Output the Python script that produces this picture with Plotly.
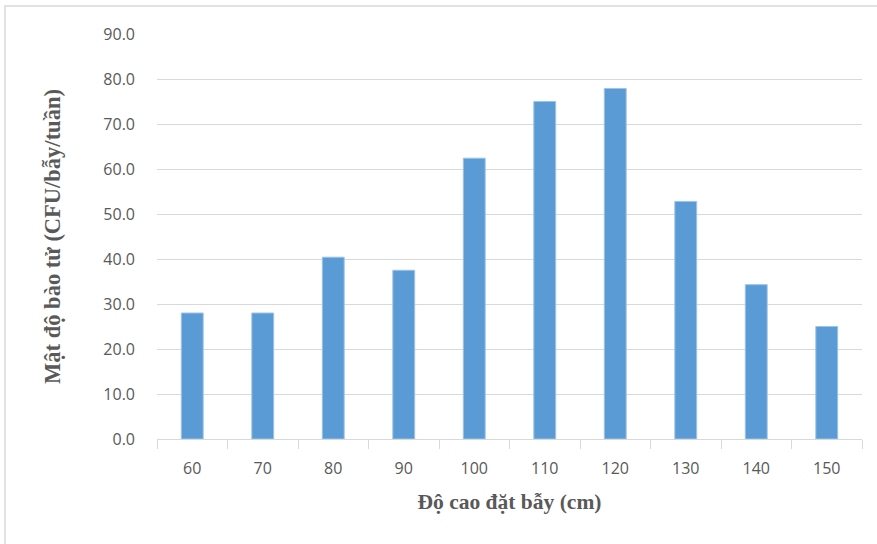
import plotly.graph_objects as go

categories = ["60", "70", "80", "90", "100", "110", "120", "130", "140", "150"]
values = [28.0, 28.0, 40.4, 37.5, 62.4, 75.0, 77.9, 52.8, 34.3, 25.0]
y_ticks = [0, 10, 20, 30, 40, 50, 60, 70, 80, 90]
y_tick_labels = ["0.0", "10.0", "20.0", "30.0", "40.0", "50.0", "60.0", "70.0", "80.0", "90.0"]

fig = go.Figure()
fig.add_trace(go.Bar(
    x=categories, y=values,
    marker=dict(color="#5B9BD5", line=dict(color="#9DC3E6", width=1)),
))

L, R, T, B = 157, 15, 34, 105
W, H = 877, 544
pw = W - L - R
ph = H - T - B

tick_font = dict(family="Open Sans, Liberation Sans, sans-serif", size=16, color="#595959")
title_family = "Liberation Serif, Times New Roman, serif"

fig.update_layout(
    width=W, height=H,
    margin=dict(l=L, r=R, t=T, b=B, autoexpand=False),
    plot_bgcolor="white", paper_bgcolor="white",
    bargap=0.69,
    showlegend=False,
    xaxis=dict(
        type="category", automargin=False,
        showline=True, linecolor="#D9D9D9", linewidth=1,
        ticks="outside", tickson="boundaries", ticklen=9, tickcolor="#D9D9D9",
        tickfont=tick_font,
        ticklabelstandoff=15,
        title=dict(text="Độ cao đặt bẫy (cm)", standoff=15,
                   font=dict(family=title_family, size=21.5, color="#595959", weight="bold")),
    ),
    yaxis=dict(
        range=[0, 90], tickvals=y_ticks, ticktext=y_tick_labels, automargin=False,
        showgrid=True, gridcolor="#D9D9D9", gridwidth=1,
        zeroline=False, showline=False,
        tickfont=tick_font,
        ticklabelstandoff=21,
        title=dict(text="Mật độ bào tử (CFU/bẫy/tuần)", standoff=36,
                   font=dict(family=title_family, size=22.5, color="#595959", weight="bold")),
    ),
    shapes=[dict(
        type="rect", xref="paper", yref="paper",
        x0=(5 - L) / pw, x1=(W + 5 - L) / pw,
        y0=-(B + 5) / ph, y1=(ph + T - 6) / ph,
        line=dict(color="#D9D9D9", width=1.5), layer="below",
    )],
)

fig.write_html("out.html", config={"displayModeBar": False},
               post_script="document.body.style.margin='0';document.body.style.overflow='hidden';")
